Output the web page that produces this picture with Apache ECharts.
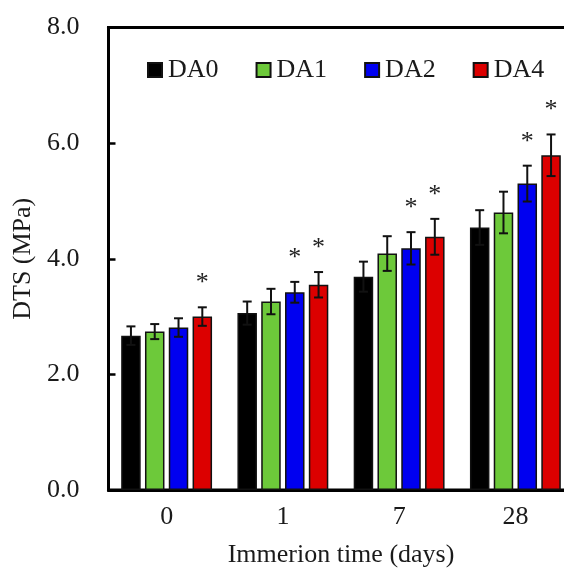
<!DOCTYPE html>
<html>
<head>
<meta charset="utf-8">
<style>
  html, body { margin: 0; padding: 0; background: #fff; }
  #chart { width: 564px; height: 572px; }
</style>
<script src="https://cdn.jsdelivr.net/npm/echarts@6/dist/echarts.min.js"></script>
</head>
<body>
<div id="chart"></div>
<script>
// Diametral tensile strength over immersion time
const categories = ['0', '1', '7', '28'];
const seriesNames = ['DA0', 'DA1', 'DA2', 'DA4'];

const da0 = [2.67, 3.06, 3.69, 4.54];
const da1 = [2.74, 3.26, 4.09, 4.80];
const da2 = [2.81, 3.42, 4.18, 5.30];
const da4 = [3.00, 3.55, 4.38, 5.79];

// standard deviations
const da0Err = [0.16, 0.20, 0.26, 0.30];
const da1Err = [0.13, 0.22, 0.30, 0.36];
const da2Err = [0.16, 0.18, 0.28, 0.31];
const da4Err = [0.16, 0.22, 0.31, 0.36];

// 1 = significant difference (*)
const da0Sig = [0, 0, 0, 0];
const da1Sig = [0, 0, 0, 0];
const da2Sig = [0, 1, 1, 1];
const da4Sig = [1, 1, 1, 1];

const yTicks = [0, 2, 4, 6, 8];

const values = [da0, da1, da2, da4];
const errors = [da0Err, da1Err, da2Err, da4Err];
const sigs = [da0Sig, da1Sig, da2Sig, da4Sig];
const colors = ['#000000', '#6dc93a', '#0000f0', '#dc0000'];

const FONT = "'Liberation Serif', 'Times New Roman', serif";
const TEXT = '#1a1a1a';
const BAR_W = 19.5;
const BAR_GAP = 0.22;

const barSeries = seriesNames.map((name, i) => ({
  name: name,
  type: 'bar',
  data: values[i],
  barWidth: BAR_W,
  barGap: (BAR_GAP * 100) + '%',
  itemStyle: { color: colors[i], borderColor: '#111', borderWidth: 1.5 },
  z: 2
}));

const errSeries = seriesNames.map((name, i) => ({
  name: name + ' error',
  type: 'custom',
  z: 5,
  data: values[i].map((v, k) => [k, v, errors[i][k], sigs[i][k]]),
  encode: { x: 0, y: 1 },
  renderItem: function (params, api) {
    const k = api.value(0);
    const v = api.value(1);
    const e = api.value(2);
    const s = api.value(3);
    const off = (i - 1.5) * BAR_W * (1 + BAR_GAP);
    const top = api.coord([k, v + e]);
    const bot = api.coord([k, v - e]);
    const x = top[0] + off;
    const cap = 4.5;
    const st = { stroke: '#111', lineWidth: 2 };
    const children = [
      { type: 'line', shape: { x1: x, y1: top[1], x2: x, y2: bot[1] }, style: st },
      { type: 'line', shape: { x1: x - cap, y1: top[1], x2: x + cap, y2: top[1] }, style: st },
      { type: 'line', shape: { x1: x - cap, y1: bot[1], x2: x + cap, y2: bot[1] }, style: st }
    ];
    if (s) {
      children.push({
        type: 'text',
        style: {
          x: x, y: top[1] - 24,
          text: '*',
          fill: '#222',
          font: '26px ' + FONT,
          align: 'center',
          verticalAlign: 'middle'
        }
      });
    }
    return { type: 'group', children: children };
  }
}));

const chart = echarts.init(document.getElementById('chart'));
chart.setOption({
  backgroundColor: '#ffffff',
  animation: false,
  textStyle: { fontFamily: FONT },
  grid: {
    left: 108.5, top: 27.5, right: -9.5, bottom: 82,
    outerBoundsMode: 'none',
    containLabel: false,
    show: true, borderColor: '#000', borderWidth: 3, backgroundColor: 'transparent'
  },
  legend: {
    data: seriesNames,
    left: 147, top: 57, padding: 0,
    itemWidth: 14, itemHeight: 14, itemGap: 37,
    icon: 'rect',
    textStyle: { fontFamily: FONT, fontSize: 26, color: TEXT, padding: [0, 0, 0, 1] }
  },
  xAxis: {
    type: 'category',
    data: categories,
    axisLine: { lineStyle: { color: '#000', width: 3 } },
    axisTick: { inside: true, length: 8, lineStyle: { color: '#000', width: 2.5 } },
    axisLabel: { fontFamily: FONT, fontSize: 26, color: TEXT, margin: 14 },
    name: 'Immerion time (days)',
    nameLocation: 'middle',
    nameGap: 52,
    nameTextStyle: { fontFamily: FONT, fontSize: 26, color: TEXT }
  },
  yAxis: {
    type: 'value',
    min: yTicks[0], max: yTicks[yTicks.length - 1], interval: yTicks[1] - yTicks[0],
    splitLine: { show: false },
    axisLine: { show: true, lineStyle: { color: '#000', width: 3 } },
    axisTick: { show: true, inside: true, length: 7, lineStyle: { color: '#000', width: 2.5 } },
    axisLabel: {
      fontFamily: FONT, fontSize: 26, color: TEXT, margin: 29,
      formatter: v => v.toFixed(1)
    },
    name: 'DTS (MPa)',
    nameLocation: 'middle',
    nameGap: 61,
    nameTextStyle: { fontFamily: FONT, fontSize: 26, color: TEXT }
  },
  series: barSeries.concat(errSeries)
});
</script>
</body>
</html>
